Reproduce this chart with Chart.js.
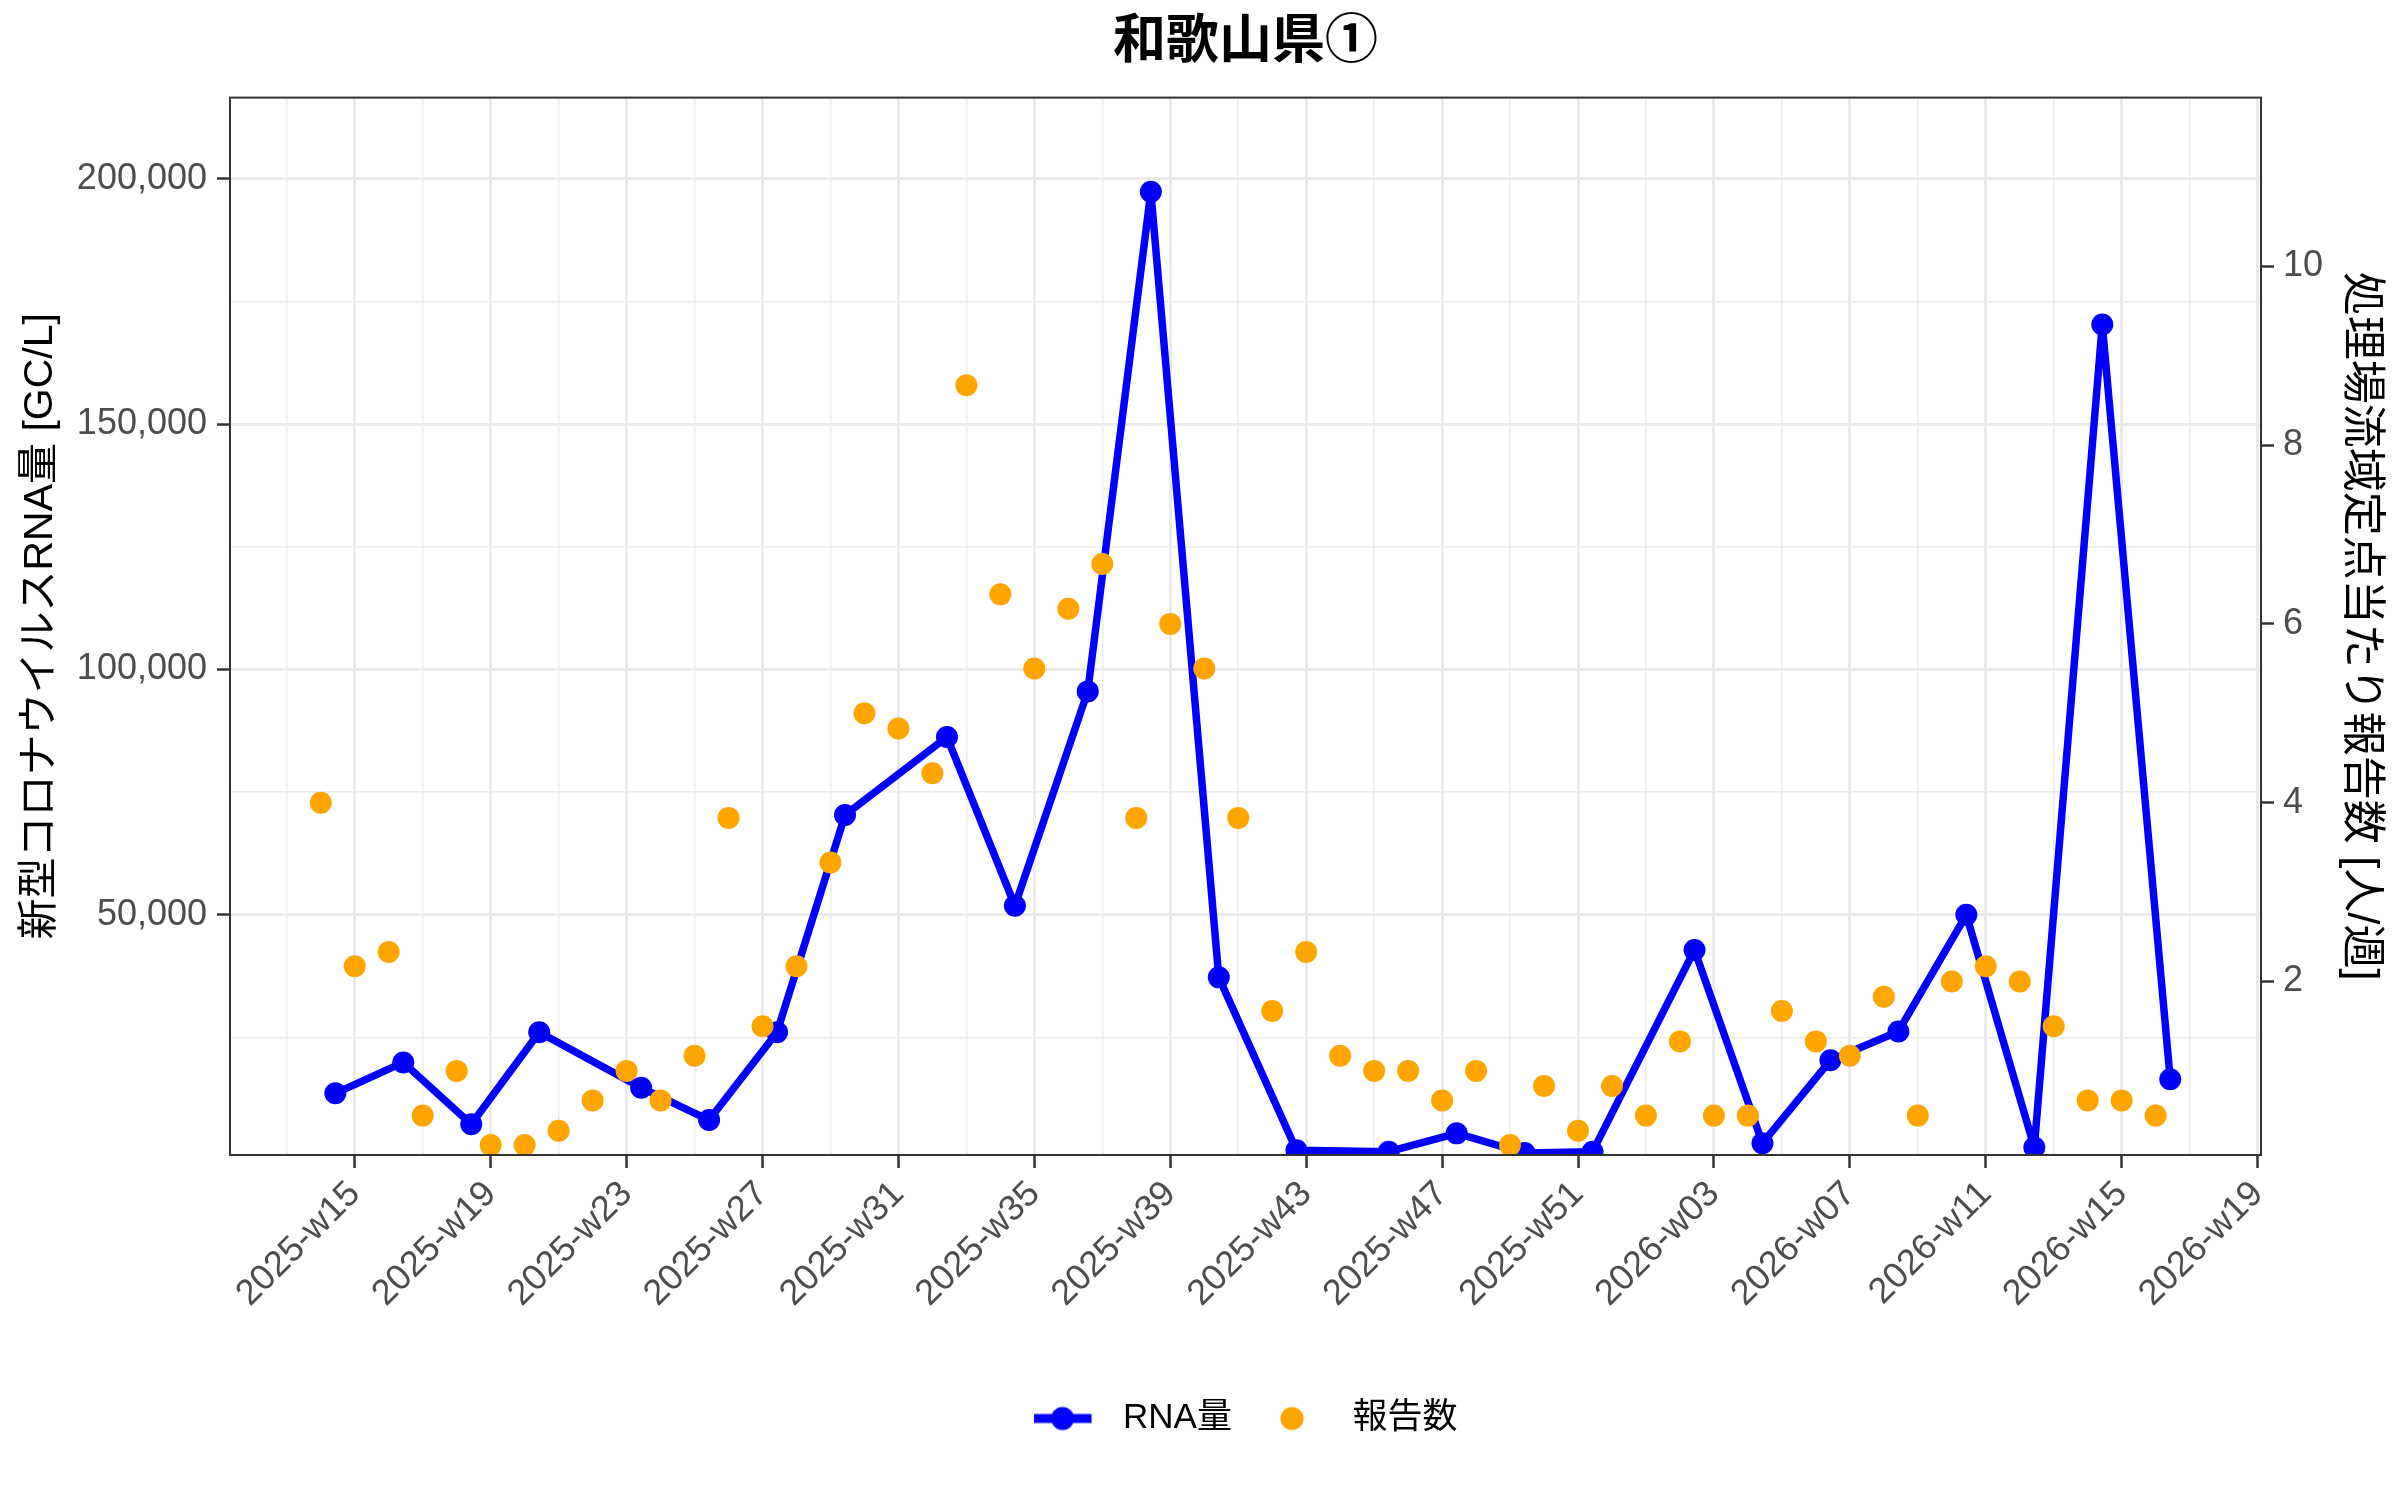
<!DOCTYPE html>
<html lang="ja">
<head>
    <meta charset="UTF-8">
    <title>和歌山県①</title>
    <script src="https://cdn.jsdelivr.net/npm/chart.js"></script>
    <style>
        html, body {
            margin: 0;
            padding: 0;
            background: #fff;
        }
        .chart-box {
            width: 2400px;
            height: 1500px;
        }
    </style>
</head>
<body>
    <div class="chart-box">
        <canvas id="chart"></canvas>
    </div>

    <script>
        // x軸の目盛ラベル（28日ごと、2025-w15 = 0日）
        const weekLabels = ['2025-w15', '2025-w19', '2025-w23', '2025-w27', '2025-w31', '2025-w35', '2025-w39',
            '2025-w43', '2025-w47', '2025-w51', '2026-w03', '2026-w07', '2026-w11', '2026-w15', '2026-w19'];

        // RNA量（2025-w15 からの日数, GC/L）
        const rnaDays = [-4, 10, 24, 38, 59, 73, 87, 101, 122, 136, 151, 164, 178, 194, 213, 227, 241, 255,
            276, 290, 304, 318, 332, 346, 360, 374];
        const rnaValues = [13650, 19940, 7350, 26100, 14800, 8200, 26100, 70330, 86220, 51860, 95530, 197320,
            37270, 2040, 1760, 5490, 1470, 1760, 42860, 3490, 20370, 26250, 50000, 2610, 170270, 16510];

        // 定点当たり報告数（週ごと）
        const reportDays = [-7, 0, 7, 14, 21, 28, 35, 42, 49, 56, 63, 70, 77, 84, 91, 98, 105, 112, 119, 126,
            133, 140, 147, 154, 161, 168, 175, 182, 189, 196, 203, 210, 217, 224, 231, 238, 245, 252, 259, 266,
            273, 280, 287, 294, 301, 308, 315, 322, 329, 336, 343, 350, 357, 364, 371];
        const reportValues = [4.00, 2.17, 2.33, 0.50, 1.00, 0.17, 0.17, 0.33, 0.67, 1.00, 0.67, 1.17, 3.83, 1.50,
            2.17, 3.33, 5.00, 4.83, 4.33, 8.67, 6.33, 5.50, 6.17, 6.67, 3.83, 6.00, 5.50, 3.83, 1.67, 2.33,
            1.17, 1.00, 1.00, 0.67, 1.00, 0.17, 0.83, 0.33, 0.83, 0.50, 1.33, 0.50, 0.50, 1.67, 1.33, 1.17,
            1.83, 0.50, 2.00, 2.17, 2.00, 1.50, 0.67, 0.67, 0.50];

        const seriesNames = ['RNA量', '報告数'];
        const leftTicks = [50000, 100000, 150000, 200000];
        const leftGrid = [25000, 50000, 75000, 100000, 125000, 150000, 175000, 200000];
        const rightTicks = [2, 4, 6, 8, 10];

        const BLUE = '#0000FF';
        const ORANGE = '#FFA500';
        const GRID = '#EBEBEB';
        const DARK = '#333333';
        const TICK_TEXT = '#4D4D4D';
        const NONE = 'rgba(0,0,0,0)';

        const yMin = 1080;
        const yMax = 216500;
        const ratio = 18214; // 右軸 1 人 = 左軸 18,214 GC/L

        Chart.defaults.font.family = "'Liberation Sans', 'Noto Sans CJK JP', sans-serif";

        // 凡例のキー画像
        function keyImage(withLine, color) {
            const c = document.createElement('canvas');
            c.width = 72;
            c.height = 30;
            const g = c.getContext('2d');
            if (withLine) {
                g.strokeStyle = color;
                g.lineWidth = 9;
                g.beginPath();
                g.moveTo(0, 15);
                g.lineTo(58, 15);
                g.stroke();
            }
            g.fillStyle = color;
            g.beginPath();
            g.arc(29, 15, 11.5, 0, Math.PI * 2);
            g.fill();
            return c;
        }
        const rnaKey = keyImage(true, BLUE);
        const reportKey = keyImage(false, ORANGE);

        // パネル枠
        const panelBorder = {
            id: 'panelBorder',
            afterDatasetsDraw(chart) {
                const { ctx, chartArea: a } = chart;
                ctx.save();
                ctx.strokeStyle = DARK;
                ctx.lineWidth = 2;
                ctx.strokeRect(a.left, a.top, a.right - a.left, a.bottom - a.top);
                ctx.restore();
            }
        };

        const isMajorX = (c) => c.tick && c.tick.value % 28 === 0;
        const isMajorY = (c) => c.tick && leftTicks.includes(c.tick.value);

        new Chart(document.getElementById('chart'), {
            type: 'line',
            data: {
                datasets: [{
                    label: seriesNames[0],
                    data: rnaDays.map((d, i) => ({ x: d, y: rnaValues[i] })),
                    yAxisID: 'y',
                    borderColor: BLUE,
                    backgroundColor: BLUE,
                    borderWidth: 7.5,
                    borderJoinStyle: 'round',
                    borderCapStyle: 'round',
                    pointRadius: 11,
                    pointBorderWidth: 0,
                    tension: 0,
                    order: 2
                }, {
                    label: seriesNames[1],
                    data: reportDays.map((d, i) => ({ x: d, y: reportValues[i] })),
                    yAxisID: 'y2',
                    showLine: false,
                    borderColor: ORANGE,
                    backgroundColor: ORANGE,
                    pointRadius: 11,
                    pointBorderWidth: 0,
                    order: 1
                }]
            },
            options: {
                responsive: true,
                maintainAspectRatio: false,
                animation: false,
                events: [],
                layout: { padding: { left: 0, right: 0, top: 0, bottom: 54 } },
                scales: {
                    x: {
                        type: 'linear',
                        min: -25.7,
                        max: 392.7,
                        afterBuildTicks: (axis) => {
                            const t = [];
                            weekLabels.forEach((_, i) => {
                                t.push({ value: i * 28 - 14 });
                                t.push({ value: i * 28 });
                            });
                            axis.ticks = t;
                        },
                        afterFit: (axis) => { axis.height = 215; },
                        ticks: {
                            autoSkip: false,
                            minRotation: 45,
                            maxRotation: 45,
                            padding: 5,
                            color: TICK_TEXT,
                            font: { size: 36 },
                            callback: (v) => v % 28 === 0 ? weekLabels[v / 28] : ''
                        },
                        grid: {
                            color: GRID,
                            lineWidth: (c) => isMajorX(c) ? 3 : 1.5,
                            tickLength: 13,
                            tickWidth: 2.5,
                            tickColor: (c) => isMajorX(c) ? DARK : NONE
                        },
                        border: { display: false }
                    },
                    y: {
                        position: 'left',
                        min: yMin,
                        max: yMax,
                        afterBuildTicks: (axis) => { axis.ticks = leftGrid.map(v => ({ value: v })); },
                        afterFit: (axis) => { axis.width = 230; },
                        ticks: {
                            padding: 10,
                            color: TICK_TEXT,
                            font: { size: 36 },
                            callback: (v) => leftTicks.includes(v) ? v.toLocaleString('en-US') : ''
                        },
                        grid: {
                            color: GRID,
                            lineWidth: (c) => isMajorY(c) ? 3 : 1.5,
                            tickLength: 13,
                            tickWidth: 2.5,
                            tickColor: (c) => isMajorY(c) ? DARK : NONE
                        },
                        border: { display: false },
                        title: {
                            display: true,
                            text: '新型コロナウイルスRNA量 [GC/L]',
                            color: '#000',
                            font: { size: 41 },
                            padding: { top: 16, bottom: 0 }
                        }
                    },
                    y2: {
                        position: 'right',
                        min: yMin / ratio,
                        max: yMax / ratio,
                        afterBuildTicks: (axis) => { axis.ticks = rightTicks.map(v => ({ value: v })); },
                        afterFit: (axis) => { axis.width = 139; },
                        ticks: {
                            padding: 9,
                            color: TICK_TEXT,
                            font: { size: 36 }
                        },
                        grid: {
                            drawOnChartArea: false,
                            tickLength: 13,
                            tickWidth: 2.5,
                            tickColor: DARK
                        },
                        border: { display: false },
                        title: {
                            display: true,
                            text: '処理場流域定点当たり報告数 [人/週]',
                            color: '#000',
                            font: { size: 44 },
                            padding: { top: 13, bottom: 0 }
                        }
                    }
                },
                plugins: {
                    title: {
                        display: true,
                        text: '和歌山県①',
                        color: '#000',
                        fullSize: false,
                        font: { size: 53, weight: 'bold' },
                        padding: { top: 12, bottom: 22 }
                    },
                    legend: {
                        position: 'bottom',
                        fullSize: false,
                        labels: {
                            usePointStyle: true,
                            pointStyleWidth: 72,
                            padding: 31,
                            color: '#000',
                            font: { size: 35 },
                            generateLabels: () => [
                                { text: seriesNames[0], pointStyle: rnaKey, fillStyle: BLUE, strokeStyle: BLUE, lineWidth: 0, hidden: false, datasetIndex: 0, fontColor: '#000' },
                                { text: seriesNames[1], pointStyle: reportKey, fillStyle: ORANGE, strokeStyle: ORANGE, lineWidth: 0, hidden: false, datasetIndex: 1, fontColor: '#000' }
                            ]
                        }
                    },
                    tooltip: { enabled: false }
                }
            },
            plugins: [panelBorder]
        });
    </script>
</body>
</html>
